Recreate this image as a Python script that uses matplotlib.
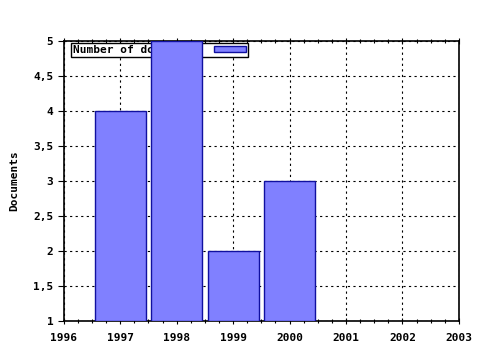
import matplotlib
matplotlib.use("Agg")
import matplotlib.pyplot as plt
from matplotlib.ticker import MultipleLocator, FuncFormatter

years = [1997, 1998, 1999, 2000]
documents = [4, 5, 2, 3]
series_label = "Number of documents"

plt.rcParams["font.family"] = "DejaVu Sans Mono"
plt.rcParams["font.weight"] = "bold"
plt.rcParams["font.size"] = 8

fig = plt.figure(figsize=(4.8, 3.5), dpi=100)
ax = fig.add_axes([0.133, 0.083, 0.823, 0.8])

ax.bar(years, [d - 1 for d in documents], bottom=1, width=0.9,
       color="#8080ff", edgecolor="#1010a0", linewidth=1, zorder=3,
       label=series_label)

ax.set_xlim(1996, 2003)
ax.set_ylim(1, 5)
ax.xaxis.set_major_locator(MultipleLocator(1))
ax.xaxis.set_minor_locator(MultipleLocator(0.25))
ax.yaxis.set_major_locator(MultipleLocator(0.5))
ax.yaxis.set_major_formatter(FuncFormatter(
    lambda v, p: f"{v:g}".replace(".", ",")))

ax.grid(True, which="major", color="black", linestyle=(0, (2, 3)),
        linewidth=0.8, zorder=1)
ax.tick_params(axis="x", which="both", top=True, direction="inout",
               length=4, width=0.8, pad=7)
ax.tick_params(axis="x", which="minor", length=3)
ax.tick_params(axis="y", direction="out", length=4, width=0.8)
for s in ax.spines.values():
    s.set_linewidth(1.2)

ax.set_ylabel("Documents", fontweight="bold")
ax.yaxis.set_label_coords(-0.112, 0.5)

leg = ax.legend(loc="upper left", bbox_to_anchor=(7 / 395, 1 - 2 / 280),
                markerfirst=False, fancybox=False,
                edgecolor="black", framealpha=1, borderpad=0.2,
                handlelength=2.9, handleheight=0.5, handletextpad=1.1,
                borderaxespad=0)
leg.get_frame().set_linewidth(1)
leg.set_zorder(2)

fig.savefig("out.png", dpi=100)
